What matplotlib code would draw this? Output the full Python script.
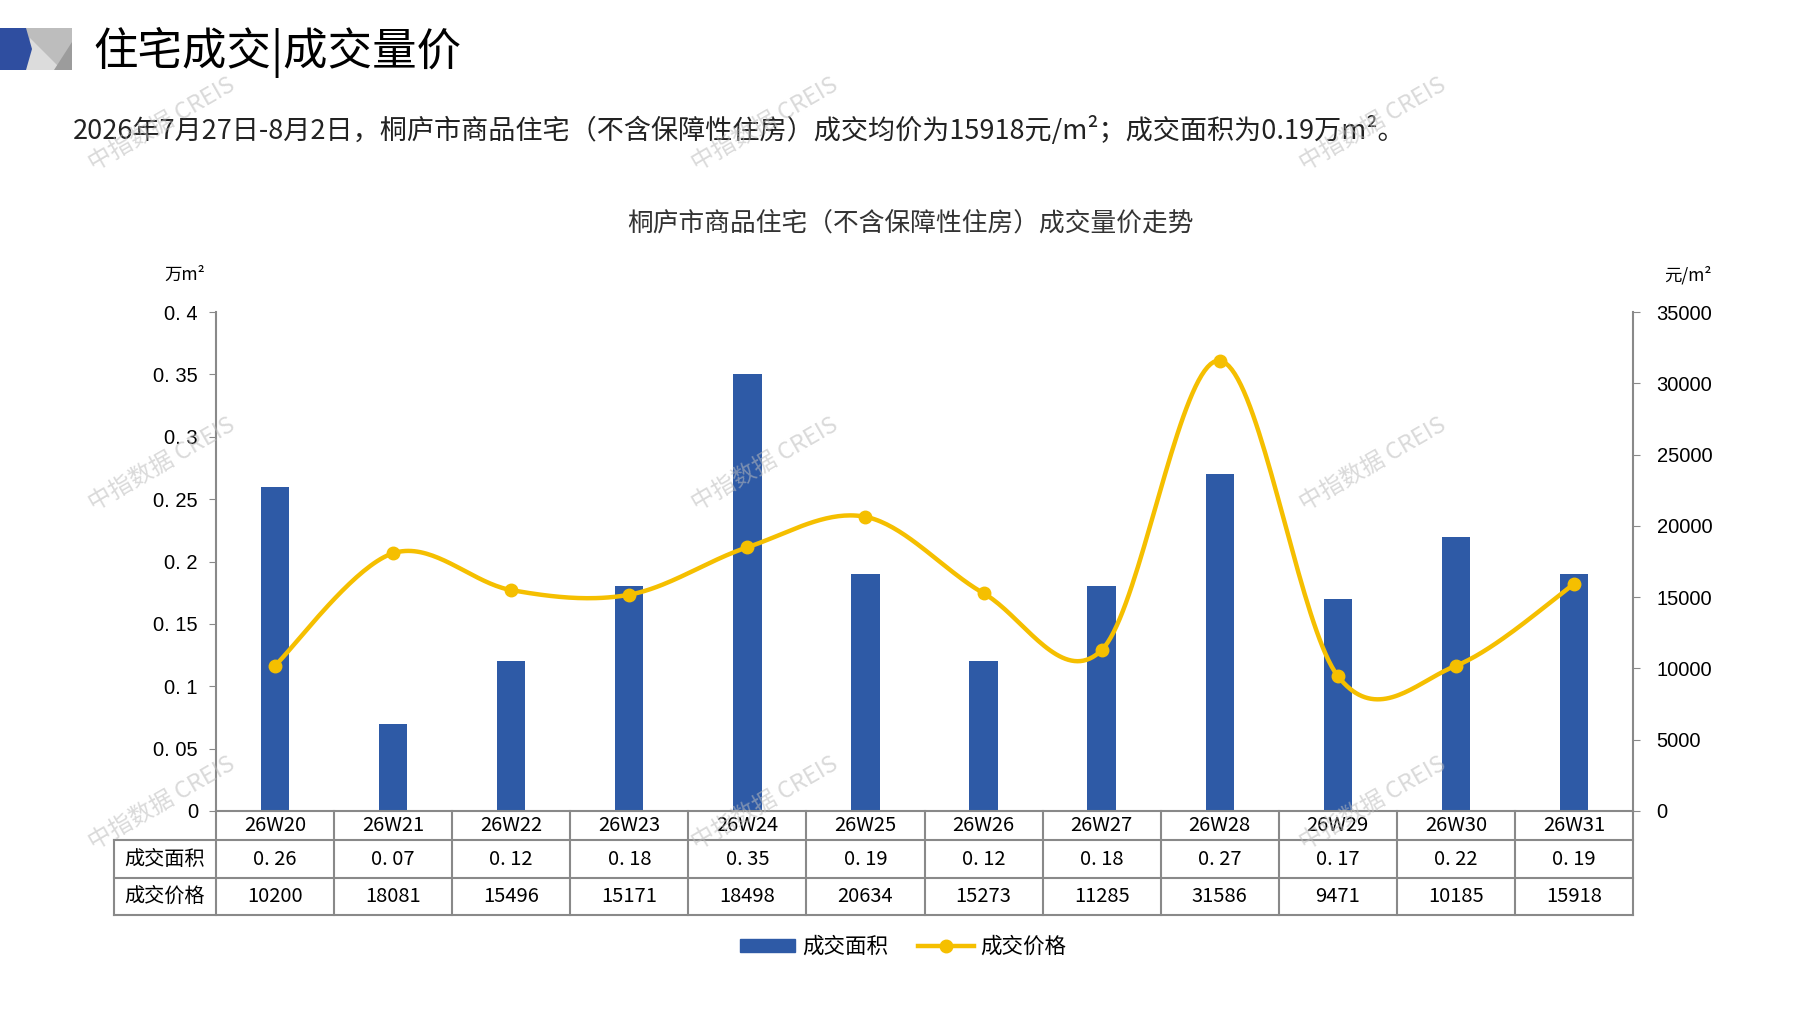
#!/usr/bin/env python3
# -*- coding: utf-8 -*-

"""Tonglu weekly housing deals: area bars + smoothed price line with a data table."""

import numpy as np
import matplotlib
matplotlib.use("Agg")
import matplotlib.pyplot as plt
from matplotlib.patches import Polygon, Patch
from matplotlib.lines import Line2D
import matplotlib.transforms as mtransforms

plt.rcParams['font.family'] = ['Noto Sans CJK SC', 'DejaVu Sans']

weeks = ["26W20", "26W21", "26W22", "26W23", "26W24", "26W25",
         "26W26", "26W27", "26W28", "26W29", "26W30", "26W31"]
area = [0.26, 0.07, 0.12, 0.18, 0.35, 0.19, 0.12, 0.18, 0.27, 0.17, 0.22, 0.19]
price = [10200, 18081, 15496, 15171, 18498, 20634, 15273, 11285, 31586, 9471, 10185, 15918]
left_ticks = [0, 0.05, 0.1, 0.15, 0.2, 0.25, 0.3, 0.35, 0.4]
left_labels = ["0", "0. 05", "0. 1", "0. 15", "0. 2", "0. 25", "0. 3", "0. 35", "0. 4"]
right_ticks = [0, 5000, 10000, 15000, 20000, 25000, 30000, 35000]

BLUE = "#2E5AA6"
YELLOW = "#F5BF00"
GRID = "#898989"
W, H = 1797, 1010


def px(x, y):
    """Pixel position (top-left origin) to figure fraction."""
    return x / W, 1 - y / H


def smooth(xs, ys, n=40):
    """Excel-like smoothing (Catmull-Rom through the points)."""
    pts = np.column_stack([xs, ys]).astype(float)
    ext = np.vstack([pts[0], pts, pts[-1]])
    out = []
    t = np.linspace(0, 1, n)[:, None]
    for i in range(1, len(ext) - 2):
        p0, p1, p2, p3 = ext[i - 1], ext[i], ext[i + 1], ext[i + 2]
        c1 = p1 + (p2 - p0) / 6
        c2 = p2 - (p3 - p1) / 6
        seg = ((1 - t) ** 3) * p1 + 3 * ((1 - t) ** 2) * t * c1 \
            + 3 * (1 - t) * t ** 2 * c2 + t ** 3 * p2
        out.append(seg)
    res = np.vstack(out)
    return res[:, 0], res[:, 1]


def main():
    fig = plt.figure(figsize=(W / 100, H / 100), dpi=100)

    # header icon
    for pts, col in [
        ([(26, 28), (72, 28), (72, 70), (26, 70)], "#BDBDBD"),
        ([(30, 38), (26, 70), (62, 70)], "#DCDCDC"),
        ([(72, 42), (72, 70), (54, 70)], "#9C9C9C"),
        ([(0, 28), (26, 28), (32, 49), (26, 70), (0, 70)], "#2F4EA0"),
    ]:
        fig.patches.append(Polygon([px(*p) for p in pts], closed=True,
                                   transform=fig.transFigure, color=col, lw=0))

    fig.text(*px(93, 52), "住宅成交|成交量价", fontsize=32, va="center", ha="left")
    fig.text(*px(73, 130),
             "2026年7月27日-8月2日，桐庐市商品住宅（不含保障性住房）成交均价为15918元/m²；成交面积为0.19万m²。",
             fontsize=19.5, va="center", ha="left", color="#222222")
    fig.text(*px(910, 225), "桐庐市商品住宅（不含保障性住房）成交量价走势",
             fontsize=18.5, va="center", ha="center", color="#333333")
    fig.text(*px(185, 275), "万m²", fontsize=12.5, va="center", ha="center")
    fig.text(*px(1688, 275), "元/m²", fontsize=12.5, va="center", ha="center")

    ax = fig.add_axes([216 / W, 1 - 811 / H, 1417 / W, 499 / H])
    x = np.arange(len(weeks))
    ax.bar(x, area, width=0.24, color=BLUE, zorder=2)
    ax.set_xlim(-0.5, len(weeks) - 0.5)
    ax.set_ylim(0, 0.4)
    ax.set_yticks(left_ticks)
    ax.set_yticklabels(left_labels, family=["Liberation Sans", "DejaVu Sans"])
    ax.set_xticks([])
    ax.tick_params(axis="y", direction="out", length=5, color=GRID,
                   labelsize=14.5, pad=8)
    for s in ["top", "right"]:
        ax.spines[s].set_visible(False)
    for s in ["left", "bottom"]:
        ax.spines[s].set_color(GRID)
        ax.spines[s].set_linewidth(1.5)

    ax2 = ax.twinx()
    ax2.set_ylim(0, 35000)
    ax2.set_yticks(right_ticks)
    ax2.set_yticklabels([str(v) for v in right_ticks],
                        family=["Liberation Sans", "DejaVu Sans"])
    ax2.tick_params(axis="y", direction="out", length=5, color=GRID,
                    labelsize=14.5, pad=12)
    for s in ["top", "left", "bottom"]:
        ax2.spines[s].set_visible(False)
    ax2.spines["right"].set_color(GRID)
    ax2.spines["right"].set_linewidth(1.5)
    sx, sy = smooth(x, price)
    ax2.plot(sx, sy, color=YELLOW, lw=3.2, solid_capstyle="round", zorder=3)
    ax2.plot(x, price, "o", color=YELLOW, ms=9, zorder=4)

    # data table under the axis
    tr = mtransforms.blended_transform_factory(ax.transData, ax.transAxes)
    left_edge = -1.364
    r1, r2, r3 = -0.0581, -0.1343, -0.2084
    lkw = dict(color=GRID, lw=1.5, transform=tr, clip_on=False)
    for b in np.arange(-0.5, len(weeks), 1.0):
        ax.plot([b, b], [0, r3], **lkw)
    ax.plot([left_edge, left_edge], [r1, r3], **lkw)
    for r in (r1, r2, r3):
        ax.plot([left_edge, len(weeks) - 0.5], [r, r], **lkw)
    tkw = dict(transform=tr, ha="center", va="center", clip_on=False, fontsize=14.5)
    lab_x = (left_edge - 0.5) / 2
    ax.text(lab_x, (r1 + r2) / 2, "成交面积", **tkw)
    ax.text(lab_x, (r2 + r3) / 2, "成交价格", **tkw)
    for i, w in enumerate(weeks):
        ax.text(i, r1 / 2, w, **tkw)
        ax.text(i, (r1 + r2) / 2, ("%.2f" % area[i]).replace(".", ". "), **tkw)
        ax.text(i, (r2 + r3) / 2, str(price[i]), **tkw)

    handles = [Patch(color=BLUE),
               Line2D([], [], color=YELLOW, lw=3.2, marker="o", ms=9)]
    fig.legend(handles, ["成交面积", "成交价格"], loc="center",
               bbox_to_anchor=px(903, 947), ncol=2, frameon=False,
               fontsize=15.5, handlelength=2.6, handleheight=0.55,
               columnspacing=1.4, handletextpad=0.3)

    # watermarks
    for wx in (162, 765, 1373):
        for wy in (124, 464, 803):
            fig.text(*px(wx, wy), "中指数据 CREIS", fontsize=17, rotation=30,
                     color="#BBBBBB", alpha=0.55, ha="center", va="center",
                     zorder=10)

    fig.savefig("out.png", dpi=100)


if __name__ == "__main__":
    main()
